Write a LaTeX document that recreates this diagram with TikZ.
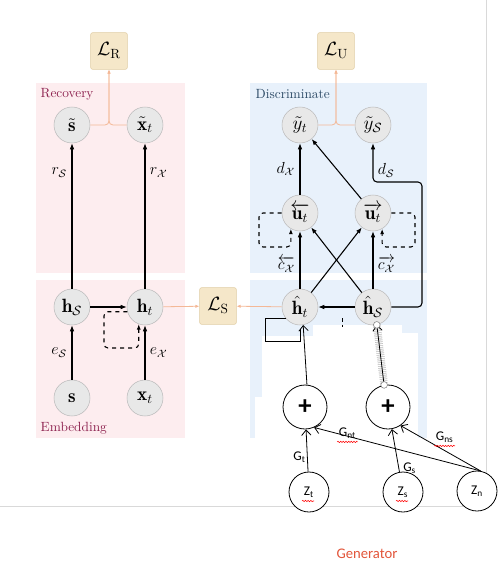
\documentclass[tikz,border=0pt]{standalone}
\usepackage{amsmath,amssymb}
\usepackage{fontspec}
\newfontfamily\genfont{Carlito}
\usetikzlibrary{arrows.meta,decorations.pathmorphing}

\definecolor{recpink}{HTML}{FDEDEF}
\definecolor{discblue}{HTML}{E8F1FB}
\definecolor{losstan}{HTML}{F5E7C9}
\definecolor{lossedge}{HTML}{E0CDA4}
\definecolor{nodegray}{HTML}{E8E8E8}
\definecolor{nodeedge}{HTML}{BBBBBB}
\definecolor{lossline}{HTML}{F4B896}
\definecolor{recred}{HTML}{8E2350}
\definecolor{discnavy}{HTML}{2C4A66}
\definecolor{genorange}{HTML}{E2553A}

\begin{document}
\begin{tikzpicture}[x=0.75pt, y=-0.75pt,
    state/.style={circle, draw=nodeedge, fill=nodegray, minimum size=27pt, inner sep=0pt, font=\Large},
    loss/.style={rectangle, draw=lossedge, fill=losstan, rounded corners=1.5pt, minimum size=27.5pt, inner sep=0pt, font=\Large},
    flow/.style={-{Latex[length=4.5pt,width=3.5pt]}, thick},
    lossflow/.style={lossline, semithick, -{Latex[length=3pt,width=2.5pt]}, rounded corners=3pt},
    recur/.style={dashed, thick, rounded corners=3pt, -{Latex[length=4pt,width=3pt]}},
    panellabel/.style={anchor=west, font=\normalsize},
    gencirc/.style={circle, draw, fill=white, semithick, minimum size=33pt, inner sep=0pt, font=\genfont\bfseries\fontsize{20}{20}\selectfont},
    zcirc/.style={circle, draw, fill=white, semithick, minimum size=30pt, inner sep=0pt, font=\genfont},
    genflow/.style={-{Straight Barb[length=4pt,width=7pt]}, semithick},
    genlabel/.style={font=\genfont, inner sep=1pt},
    spell/.style={red, thin, decorate, decoration={snake, amplitude=0.5pt, segment length=2pt}}]

    \useasboundingbox (0,0) rectangle (504,565);

    % panels
    \fill[recpink] (36,83) rectangle (185,273);
    \fill[recpink] (36,280) rectangle (185,438);
    \fill[discblue] (250,83) rectangle (427,273);
    \fill[discblue] (250,280) rectangle (427,438);
    \fill[white] (313,325) rectangle (402,336);
    \fill[white] (262,336) rectangle (418,442);
    \fill[white] (255,397) rectangle (262,442);
    \fill[white] (402,333) rectangle (418,336);
    \draw[gray!30] (0,506) -- (486,506) -- (486,0);

    \node[panellabel, text=recred] at (36,94) {Recovery};
    \node[panellabel, text=recred] at (36,428) {Embedding};
    \node[panellabel, text=discnavy] at (251,94) {Discriminate};

    \node[loss] (LR) at (109,51) {$\mathcal{L}_{\mathrm{R}}$};
    \node[loss] (LS) at (218,306) {$\mathcal{L}_{\mathrm{S}}$};
    \node[loss] (LU) at (336,51) {$\mathcal{L}_{\mathrm{U}}$};

    \node[state] (sr) at (72,125) {$\tilde{\mathbf{s}}$};
    \node[state] (xr) at (145,125) {$\tilde{\mathbf{x}}_t$};
    \node[state] (hs) at (72,307) {$\mathbf{h}_{\mathcal{S}}$};
    \node[state] (ht) at (145,307) {$\mathbf{h}_t$};
    \node[state] (s) at (72,398) {$\mathbf{s}$};
    \node[state] (xt) at (145,398) {$\mathbf{x}_t$};

    \node[state] (yt) at (300,125) {$\tilde{y}_t$};
    \node[state] (ys) at (373,125) {$\tilde{y}_{\mathcal{S}}$};
    \node[state] (ub) at (300,213) {$\overleftarrow{\mathbf{u}_t}$};
    \node[state] (uf) at (373,213) {$\overrightarrow{\mathbf{u}_t}$};
    \node[state] (hht) at (300,307) {$\hat{\mathbf{h}}_t$};
    \node[state] (hhs) at (373,307) {$\hat{\mathbf{h}}_{\mathcal{S}}$};

    % recovery and embedding
    \draw[flow] (hs) -- (sr) node[pos=0.8, left, font=\large] {$r_{\mathcal{S}}$};
    \draw[flow] (ht) -- (xr) node[pos=0.8, right, font=\large] {$r_{\mathcal{X}}$};
    \draw[flow] (s) -- (hs) node[midway, left, font=\large] {$e_{\mathcal{S}}$};
    \draw[flow] (xt) -- (ht) node[midway, right, font=\large] {$e_{\mathcal{X}}$};
    \draw[flow] (hs) -- (ht);
    \draw[recur] (ht.195) -| (104,348) -| (ht.250);

    \draw[lossflow] (sr) -| (LR);
    \draw[lossflow] (xr) -| (LR);
    \draw[lossflow] (ht) -- (LS);
    \draw[lossflow] (hht) -- (LS);
    \draw[lossflow] (yt) -| (LU);
    \draw[lossflow] (ys) -| (LU);

    % discriminator
    \draw[flow] (ub) -- (yt) node[midway, left, font=\large] {$d_{\mathcal{X}}$};
    \draw[flow] (uf) -- (yt);
    \draw[flow, rounded corners=3pt] (hhs.east) -- (422,307) -- (422,182) -- (373,182)
        -- node[pos=0.3, right, font=\large] {$d_{\mathcal{S}}$} (ys.south);
    \draw[flow] (hht) -- (ub) node[pos=0.42, left, font=\large] {$\overleftarrow{c_{\mathcal{X}}}$};
    \draw[flow] (hht) -- (uf);
    \draw[flow] (hhs) -- (ub);
    \draw[flow] (hhs) -- (uf) node[pos=0.42, right, font=\large] {$\overrightarrow{c_{\mathcal{X}}}$};
    \draw[flow] (hhs) -- (hht);
    \draw[recur] (ub.west) -| (259,247) -| (ub.240);
    \draw[recur] (uf.east) -| (415,247) -| (uf.300);

    % generator
    \node[gencirc] (pt) at (305,407) {+};
    \node[gencirc] (ps) at (388,407) {+};
    \node[zcirc] (zt) at (309,492) {Z\textsubscript{t}};
    \node[zcirc] (zs) at (403,492) {Z\textsubscript{s}};
    \node[zcirc] (zn) at (477,491) {Z\textsubscript{n}};

    \draw (hht.218) -| (265,341) -| (300,329);
    \draw[genflow] (pt.85) -- (hht.280);
    \draw[gray!60, densely dotted, double=gray!35, double distance=5pt] (ps.100) -- (hhs.282);
    \draw[genflow] (ps.100) -- (hhs.282);
    \draw[gray, fill=white] (ps.100) circle (2.5pt);
    \draw[gray, fill=white] (hhs.282) circle (2.5pt);
    \draw[densely dashed] (342,318) -- (342,327);

    \draw[genflow] (zt) -- (pt) node[pos=0.35, left, genlabel] {G\textsubscript{t}};
    \draw[genflow] (zs) -- (ps) node[pos=0.08, right, xshift=2pt, genlabel] {G\textsubscript{s}};
    \draw[genflow] (zn.80) -- (pt.294) node[pos=0.8, yshift=2pt, genlabel] (gnt) {G\textsubscript{nt}};
    \draw[genflow] (zn.80) -- (ps.304) node[pos=0.58, above right=0pt, genlabel] (gns) {G\textsubscript{ns}};

    \draw[spell] ([yshift=-1pt]gnt.south west) -- ([yshift=-1pt]gnt.south east);
    \draw[spell] ([yshift=-1pt]gns.south west) -- ([yshift=-1pt]gns.south east);
    \draw[spell] ([shift={(-7,9)}]zt.center) -- ++(12,0);
    \draw[spell] ([shift={(-7,9)}]zs.center) -- ++(12,0);

    \node[font=\genfont\fontsize{11}{13}\selectfont, text=genorange] (gen) at (367,554) {Generator};
\end{tikzpicture}
\end{document}
